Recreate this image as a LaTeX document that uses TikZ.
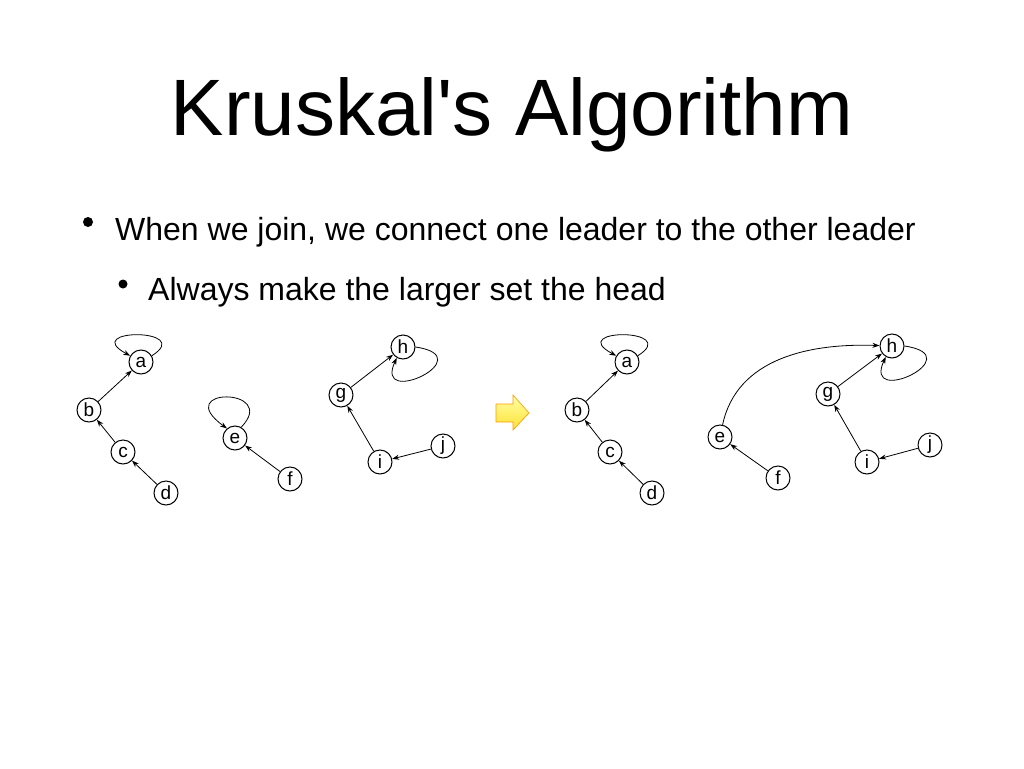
\documentclass[tikz,border=0pt]{standalone}
\usepackage{fontspec}
\setmainfont{Liberation Sans}
\usetikzlibrary{arrows.meta,calc}
\begin{document}
\begin{tikzpicture}[x=1pt,y=-1pt,
  vtx/.style={circle,draw,line width=1pt,fill=white,minimum size=24pt,inner sep=0pt,font=\fontsize{19}{19}\selectfont},
  arr/.style={line width=0.8pt,-{Stealth[length=7pt,width=5pt]}},
  bul/.style={circle,fill=black,inner sep=0pt}]
\useasboundingbox (0,0) rectangle (1024,768);
% title and bullets
\node[anchor=base,font=\fontsize{80}{86}\selectfont,inner sep=0pt] (title) at (512,135) {Kruskal\textquotesingle s Algorithm};
\node[bul,minimum size=10pt] (b1) at (88,222) {};
\node[anchor=base west,font=\fontsize{32}{34}\selectfont,inner sep=0pt] (t1) at (115,240) {When we join, we connect one leader to the other leader};
\node[bul,minimum size=9pt] (b2) at (123,284) {};
\node[anchor=base west,font=\fontsize{32}{34}\selectfont,inner sep=0pt] (t2) at (148,300) {Always make the larger set the head};
% left graph
\node[vtx] (a) at (141,362) {a};
\node[vtx] (b) at (89,410) {b};
\node[vtx] (c) at (123,452) {c};
\node[vtx] (d) at (166,493) {d};
\node[vtx] (e) at (235,438) {e};
\node[vtx] (f) at (290,479) {f};
\node[vtx] (g) at (341,395) {g};
\node[vtx] (h) at (403,347) {h};
\node[vtx] (i) at (380,462) {i};
\node[vtx] (j) at (443,446) {j};
\draw[arr] (b) -- (a);
\draw[arr] (c) -- (b);
\draw[arr] (d) -- (c);
\draw[arr] (f) -- (e);
\draw[arr] (g) -- (h);
\draw[arr] (i) -- (g);
\draw[arr] (j) -- (i);
\draw[arr] (a.30) .. controls ($(a)+(55,-34)$) and ($(a)+(-62,-34)$) .. (a.150);
\draw[arr] (e.60) .. controls ($(e)+(45,-51)$) and ($(e)+(-65,-51)$) .. (e.130);
\draw[arr] (h.0) .. controls ($(h)+(80,10)$) and ($(h)+(-30,62)$) .. (h.240);
% yellow arrow
\shade[top color=yellow!35!white,bottom color=orange!30!yellow!80!white,draw=orange!80!yellow,line width=0.6pt]
  (496,404) -- (513,404) -- (513,395) -- (529,413) -- (513,430) -- (513,422) -- (496,422) -- cycle;
% right graph
\node[vtx] (A) at (627,362) {a};
\node[vtx] (B) at (577,410) {b};
\node[vtx] (C) at (610,452) {c};
\node[vtx] (D) at (652,493) {d};
\node[vtx] (E) at (720,437) {e};
\node[vtx] (F) at (778,478) {f};
\node[vtx] (G) at (828,394) {g};
\node[vtx] (H) at (892,346) {h};
\node[vtx] (I) at (867,462) {i};
\node[vtx] (J) at (930,445) {j};
\draw[arr] (B) -- (A);
\draw[arr] (C) -- (B);
\draw[arr] (D) -- (C);
\draw[arr] (F) -- (E);
\draw[arr] (G) -- (H);
\draw[arr] (I) -- (G);
\draw[arr] (J) -- (I);
\draw[arr] (E) to[out=78,in=178] (H);
\draw[arr] (A.30) .. controls ($(A)+(55,-34)$) and ($(A)+(-62,-34)$) .. (A.150);
\draw[arr] (H.0) .. controls ($(H)+(80,10)$) and ($(H)+(-30,62)$) .. (H.240);
\end{tikzpicture}
\end{document}
